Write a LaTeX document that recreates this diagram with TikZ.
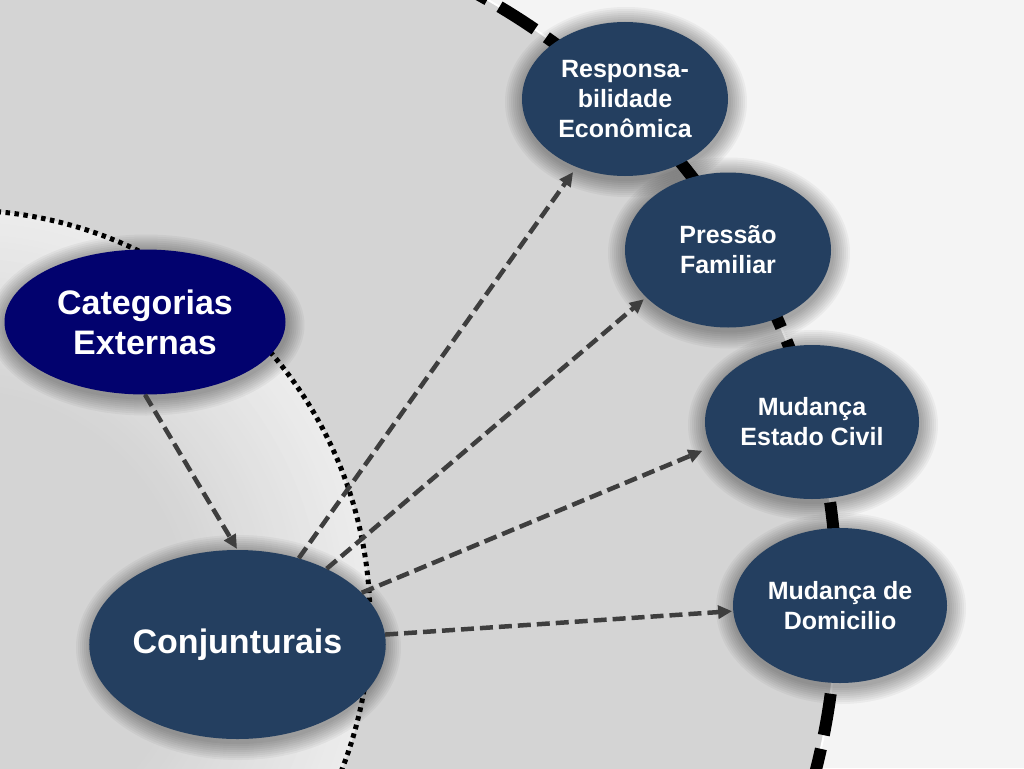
\documentclass[tikz,border=0pt]{standalone}
\usepackage{fontspec}
\setmainfont{Liberation Sans}
\usetikzlibrary{shapes.geometric,arrows.meta}
\definecolor{navyfill}{RGB}{2,2,110}
\definecolor{slate}{RGB}{36,63,96}
\definecolor{arrowgray}{RGB}{62,62,62}
\definecolor{bgouter}{RGB}{244,244,244}
\definecolor{bginner}{RGB}{212,212,212}
\definecolor{rimlight}{RGB}{236,236,236}
\newcommand\ovalglow[4]{\foreach \k in {1,...,9}{\fill[black,opacity=0.04] (#1+1,#2+3) ellipse ({(#3/2+2*\k)*1pt} and {(#4/2+2*\k)*1pt});}}
\tikzset{
  oval/.style={ellipse, inner sep=0pt, fill=slate, text=white, align=center,
    font=\bfseries\fontsize{25}{30}\selectfont},
  bigoval/.style={oval, font=\bfseries\fontsize{34}{40}\selectfont},
  conn/.style={draw=arrowgray, line width=4.5pt, dash pattern=on 13pt off 6pt,
    -{Triangle[length=14pt,width=13pt]}},
  dotarc/.style={draw=black, line width=5pt, dash pattern=on 4.5pt off 4.5pt},
  bigarc/.style={draw=black, line width=12pt, dash pattern=on 42pt off 14pt},
}
\begin{document}
\begin{tikzpicture}[x=1pt,y=-1pt]
\useasboundingbox (0,0) rectangle (1024,768);
\begin{scope}
\clip (0,0) rectangle (1024,768);
% backgrounds
\fill[bgouter] (0,0) rectangle (1024,768);
\fill[bginner] (147,600) circle (690pt);
% lighter rim inside the dotted circle
\foreach \i in {0,...,30}{
  \pgfmathsetmacro\rr{410-6*\i}
  \pgfmathsetmacro\mm{100-100*\i/30}
  \fill[rimlight!\mm!bginner] (-40,620) circle (\rr pt);
}
% dotted arc
\draw[dotarc] (-40,620) circle (410pt);
% big dashed arc
\draw[white, line width=2pt] (147,600) circle (690pt);
\draw[bigarc] (147,600) circle (690pt);
\end{scope}
% glows
\ovalglow{145}{322}{281}{145}
\ovalglow{237.5}{644.5}{289}{189}
\ovalglow{625}{99}{206}{154}
\ovalglow{728}{250}{206}{155}
\ovalglow{812}{422}{214}{154}
\ovalglow{840}{605.5}{214}{155}
% nodes
\node[bigoval, fill=navyfill, minimum width=281pt, minimum height=145pt] (cat) at (145,322) {Categorias\\Externas};
\node[bigoval, minimum width=289pt, minimum height=189pt] (conj) at (237.5,644.5) {Conjunturais};
\node[oval, minimum width=206pt, minimum height=154pt] (resp) at (625,99) {Responsa-\\bilidade\\Econômica};
\node[oval, minimum width=206pt, minimum height=155pt] (press) at (728,250) {Pressão\\Familiar};
\node[oval, minimum width=214pt, minimum height=154pt] (civil) at (812,422) {Mudança\\Estado Civil};
\node[oval, minimum width=214pt, minimum height=155pt] (dom) at (840,605.5) {Mudança de\\Domicilio};
% connectors
\draw[conn, shorten >=1pt] (cat.south) -- (conj.north);
\draw[conn, shorten >=6pt] (conj) -- (resp);
\draw[conn, shorten >=3pt] (conj) -- (press.210);
\draw[conn, shorten >=9pt] (conj) -- (civil.194);
\draw[conn, shorten >=1pt] (conj) -- (dom.183);
\end{tikzpicture}
\end{document}
